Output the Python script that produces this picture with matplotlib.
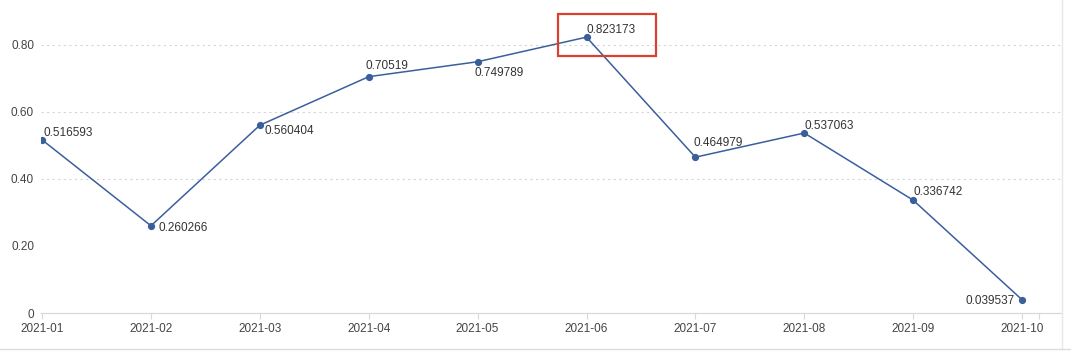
import matplotlib
matplotlib.use("Agg")
import matplotlib.pyplot as plt
from matplotlib.patches import Rectangle
from matplotlib.lines import Line2D

months = ["2021-01", "2021-02", "2021-03", "2021-04", "2021-05",
          "2021-06", "2021-07", "2021-08", "2021-09", "2021-10"]
values = [0.516593, 0.260266, 0.560404, 0.70519, 0.749789,
          0.823173, 0.464979, 0.537063, 0.336742, 0.039537]
labels = ["0.516593", "0.260266", "0.560404", "0.70519", "0.749789",
          "0.823173", "0.464979", "0.537063", "0.336742", "0.039537"]
yticks = [0, 0.2, 0.4, 0.6, 0.8]
ytick_labels = ["0", "0.20", "0.40", "0.60", "0.80"]

# label placement (pixel offsets, horizontal alignment)
offsets = [(1, 7, "left"), (8, -2, "left"), (5, -6, "left"), (-3, 11, "left"),
           (-3, -11, "left"), (0, 7, "left"), (-2, 14, "left"), (0, 7, "left"),
           (0, 8, "left"), (-7, -1, "right")]

plt.rcParams["font.family"] = ["Liberation Sans", "DejaVu Sans"]

W, H = 1080, 361
fig = plt.figure(figsize=(W / 100, H / 100), dpi=100)
fig.patch.set_facecolor("white")
left_px, right_px, bottom_px, top_px = 41, 1062, 313, 0
ax = fig.add_axes([left_px / W, 1 - bottom_px / H,
                   (right_px - left_px) / W, (bottom_px - top_px) / H])

x = list(range(len(months)))
line_color = "#3b5f9c"
ax.plot(x, values, color=line_color, lw=1.1, marker="o", ms=4.2,
        markerfacecolor=line_color, markeredgecolor=line_color, zorder=3)

for xi, v, lab, (dx, dy, ha) in zip(x, values, labels, offsets):
    ax.annotate(lab, (xi, v), xytext=(dx, dy), textcoords="offset pixels",
                ha=ha, va="center", fontsize=8.5, color="#333333", zorder=4)

ax.set_xlim(-0.01, 9.367)
ax.set_ylim(0, 0.934)

ax.set_xticks(x)
ax.set_xticklabels(months)
ax.set_xticks([9.157], minor=True)
ax.set_yticks(yticks)
ax.set_yticklabels(ytick_labels)

ax.tick_params(axis="x", which="both", length=4, width=0.8, color="#d8d8d8",
               labelsize=8.5, labelcolor="#444444", pad=3)
ax.tick_params(axis="y", length=0, labelsize=8.5, labelcolor="#444444", pad=5)

for s in ["top", "left", "right"]:
    ax.spines[s].set_visible(False)
ax.spines["bottom"].set_color("#d8d8d8")
ax.spines["bottom"].set_linewidth(0.9)

for g in yticks[2:]:
    ax.axhline(g, color="#d5d5d5", lw=0.8, ls=(0, (2, 3)), zorder=1)

# outer frame lines
fig.add_artist(Line2D([1062 / W, 1062 / W], [1 - 348 / H, 1.0],
                      transform=fig.transFigure, color="#e8e8e8", lw=1.0))
fig.add_artist(Line2D([0, 1070 / W], [1 - 349 / H, 1 - 349 / H],
                      transform=fig.transFigure, color="#dcdcdc", lw=1.0))

# red highlight box around the maximum
fig.add_artist(Rectangle((558 / W, 1 - 56 / H), 98 / W, 42 / H,
                         transform=fig.transFigure, fill=False,
                         edgecolor="#d9412e", lw=1.6, zorder=5))

fig.savefig("out.png", dpi=100, facecolor="white")
